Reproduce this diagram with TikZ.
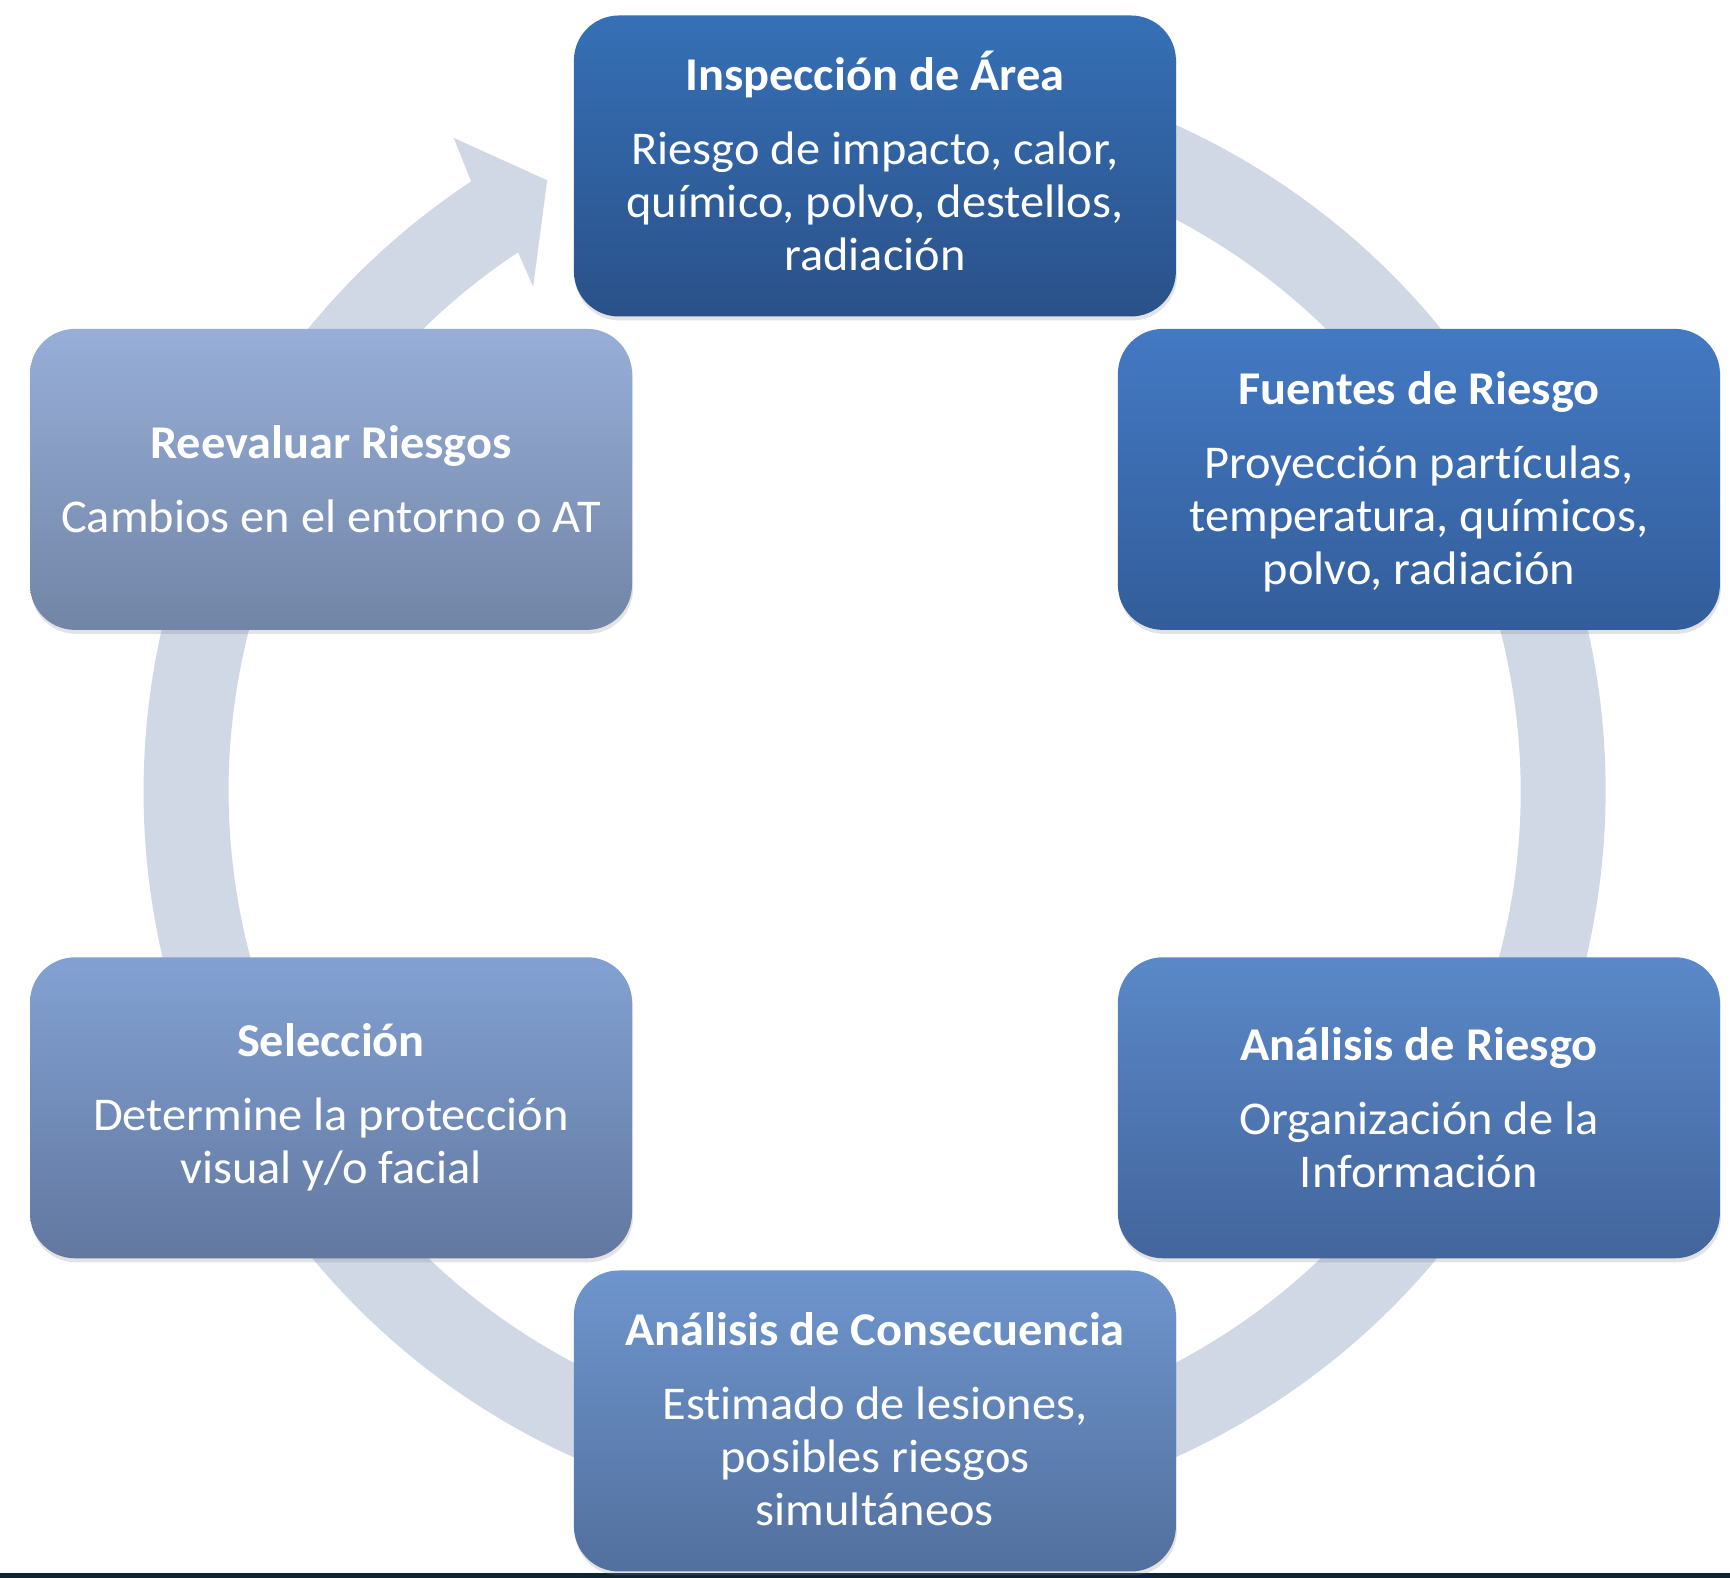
\documentclass[tikz,border=0pt]{standalone}
\usepackage{fontspec}
\setmainfont{Carlito}[FakeStretch=1.03, Ligatures=NoCommon]
\usetikzlibrary{shadows}
\definecolor{ringc}{HTML}{D0D8E6}
\definecolor{bandc}{HTML}{0B2535}
\definecolor{aT}{HTML}{3670B6}\definecolor{aB}{HTML}{2A5189}
\definecolor{bT}{HTML}{4379C3}\definecolor{bB}{HTML}{335D9A}
\definecolor{cT}{HTML}{5A88C8}\definecolor{cB}{HTML}{43659C}
\definecolor{dT}{HTML}{6E95CD}\definecolor{dB}{HTML}{52709E}
\definecolor{eT}{HTML}{82A1D2}\definecolor{eB}{HTML}{6278A0}
\definecolor{fT}{HTML}{97AED8}\definecolor{fB}{HTML}{7185A6}
\tikzset{
  stagebox/.style={rounded corners=45pt, minimum width=602pt, minimum height=301pt,
    inner sep=0pt,
    drop shadow={opacity=0.22, shadow xshift=1pt, shadow yshift=-4pt}},
  stagetext/.style={inner sep=0pt, align=center, text=white,
    font=\fontsize{47}{53}\selectfont},
  ringfill/.style={fill=ringc}
}
\begin{document}
\begin{tikzpicture}[x=1pt,y=1pt]
\useasboundingbox (0,0) rectangle (1730,1578);
\fill[white] (0,0) rectangle (1730,1578);
\fill[bandc] (0,0) rectangle (1730,5.3);
% ring arrow
\begin{scope}[shift={(874.6,787)}]
\fill[ringfill] (123.5:731) arc[start angle=123.5, end angle=460, radius=731]
  -- (460:646) arc[start angle=460, end angle=123.5, radius=646]
  -- (124.1:609) -- (118.2:693) -- (122.8:777) -- cycle;
\end{scope}
% boxes
\node[stagebox, top color=aT, bottom color=aB] (insp) at (874.9,1412) {};
\node[stagebox, top color=bT, bottom color=bB] (fuentes) at (1418.9,1098.6) {};
\node[stagebox, top color=cT, bottom color=cB] (riesgo) at (1418.9,470.2) {};
\node[stagebox, top color=dT, bottom color=dB] (consec) at (874.9,157) {};
\node[stagebox, top color=eT, bottom color=eB] (selec) at (331,470.2) {};
\node[stagebox, top color=fT, bottom color=fB] (reeval) at (331,1098.6) {};
% texts
\node[stagetext] (insptxt) at ([yshift=5pt]insp.center)
  {\textbf{Inspección de Área}\\[21pt]Riesgo de impacto, calor,\\químico, polvo, destellos,\\radiación};
\node[stagetext] (fuentestxt) at ([yshift=-2pt]fuentes.center)
  {\textbf{Fuentes de Riesgo}\\[21pt]Proyección partículas,\\temperatura, químicos,\\polvo, radiación};
\node[stagetext] (riesgotxt) at (riesgo.center)
  {\textbf{Análisis de Riesgo}\\[21pt]Organización de la\\Información};
\node[stagetext] (consectxt) at ([yshift=2pt]consec.center)
  {\textbf{Análisis de Consecuencia}\\[21pt]Estimado de lesiones,\\posibles riesgos\\simultáneos};
\node[stagetext] (selectxt) at (selec.center)
  {\textbf{Selección}\\[21pt]Determine la protección\\visual y/o facial};
\node[stagetext] (reevaltxt) at (reeval.center)
  {\textbf{Reevaluar Riesgos}\\[21pt]Cambios en el entorno o AT};
\end{tikzpicture}
\end{document}
